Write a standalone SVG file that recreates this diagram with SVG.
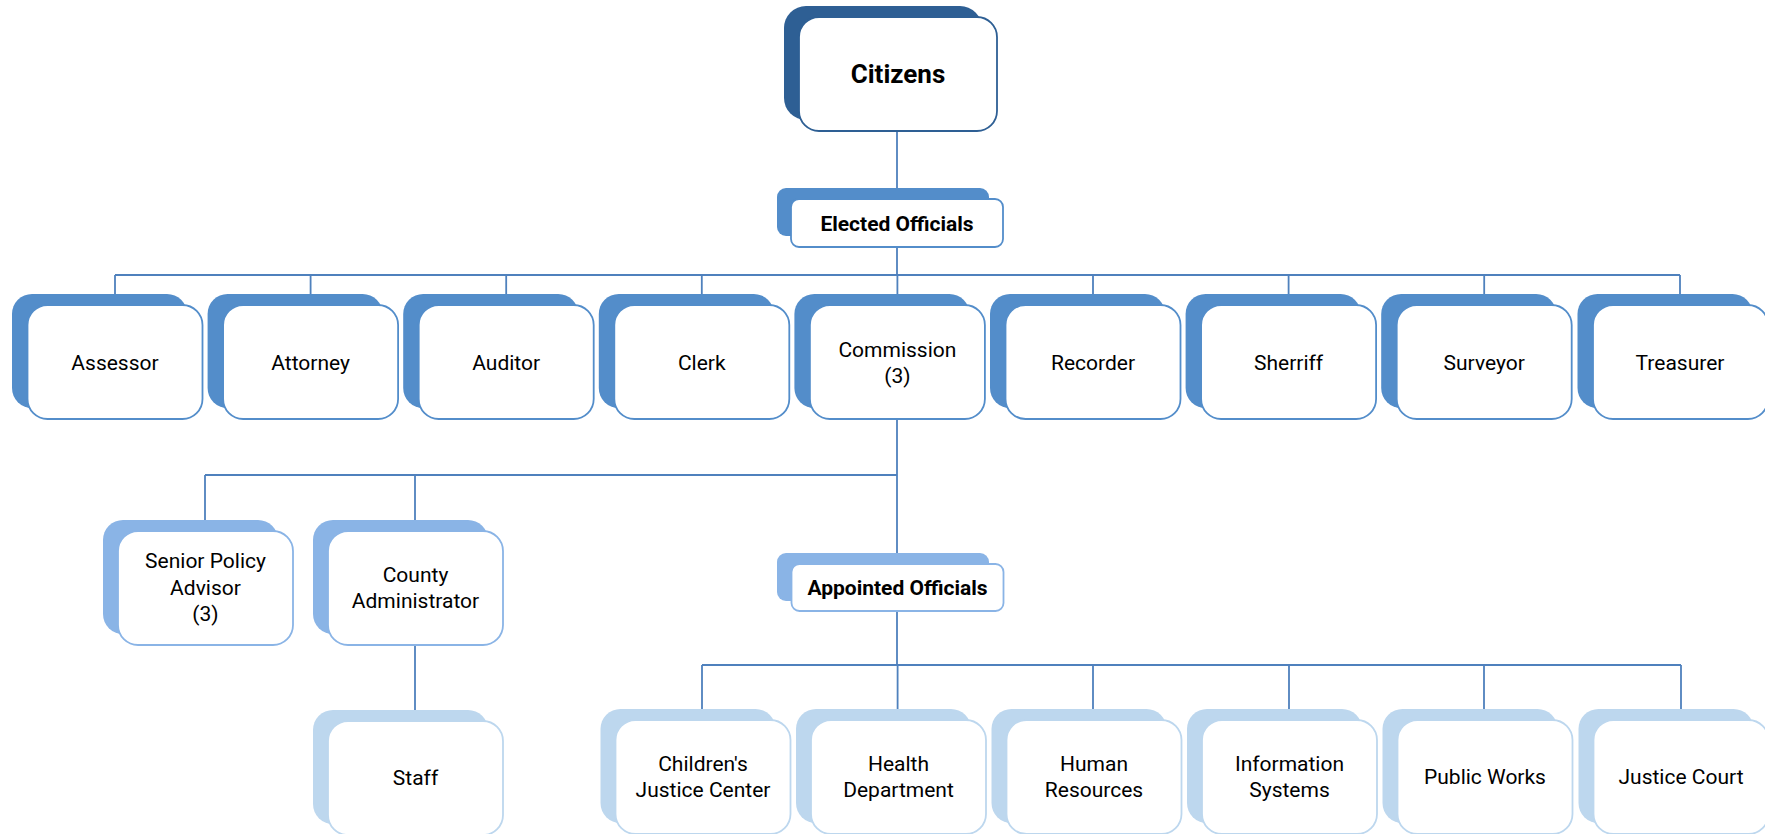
<svg xmlns="http://www.w3.org/2000/svg" width="1765" height="834" viewBox="0 0 1765 834">
  <style>
    .bg { fill: #ffffff; }
    .conn { stroke: #4F81BD; stroke-width: 1.8; fill: none; }
    .card { fill: #ffffff; stroke-width: 1.8; }
    .l1 .sh { fill: #2E5F94; } .l1 .card { stroke: #2E5F94; }
    .l2 .sh { fill: #538DCA; } .l2 .card { stroke: #538DCA; }
    .l3 .sh { fill: #8AB4E6; } .l3 .card { stroke: #8AB4E6; }
    .l4 .sh { fill: #BDD7EE; } .l4 .card { stroke: #BDD7EE; }
    text { font-family: Roboto, "Noto Sans", "Liberation Sans", sans-serif; fill: #000000; text-anchor: middle; font-size: 21px; }
    .b { font-weight: bold; }
    .big { font-size: 26px; font-weight: bold; }
  </style>
  <rect class="bg" x="0" y="0" width="1765" height="834"/>

  <!-- connectors -->
  <g id="connectors">
    <path class="conn" d="M897 131 V199 M897 247 V275"/>
    <path class="conn" d="M115 275 H1680"/>
    <path class="conn" d="M115 275 V305 M310.6 275 V305 M506.2 275 V305 M701.8 275 V305 M897.4 275 V305 M1093 275 V305 M1288.6 275 V305 M1484.2 275 V305 M1680 275 V305"/>
    <path class="conn" d="M897 419 V564 M205 475 H897 M205 475 V531 M415 475 V531 M415 645 V721"/>
    <path class="conn" d="M897 611 V665 M702 665 H1681"/>
    <path class="conn" d="M702 665 V720 M897.6 665 V720 M1093 665 V720 M1289 665 V720 M1484 665 V720 M1681 665 V720"/>
  </g>

  <!-- top -->
  <g id="citizens" class="l1">
    <rect class="sh" x="784" y="6" width="198" height="114" rx="22"/>
    <rect class="card" x="799" y="17" width="198" height="114" rx="20"/>
    <text class="big" x="898" y="83">Citizens</text>
  </g>

  <g id="elected-officials" class="l2">
    <rect class="sh" x="777" y="188" width="212" height="48" rx="9"/>
    <rect class="card" x="791" y="199" width="212" height="48" rx="8"/>
    <text class="b" x="897" y="231">Elected Officials</text>
  </g>

  <!-- elected row -->
  <g id="assessor" class="l2">
    <rect class="sh" x="12" y="294" width="175" height="114" rx="20"/>
    <rect class="card" x="27.5" y="305" width="175" height="114" rx="20"/>
    <text x="115" y="369.5">Assessor</text>
  </g>
  <g id="attorney" class="l2">
    <rect class="sh" x="207.6" y="294" width="175" height="114" rx="20"/>
    <rect class="card" x="223.1" y="305" width="175" height="114" rx="20"/>
    <text x="310.6" y="369.5">Attorney</text>
  </g>
  <g id="auditor" class="l2">
    <rect class="sh" x="403.2" y="294" width="175" height="114" rx="20"/>
    <rect class="card" x="418.7" y="305" width="175" height="114" rx="20"/>
    <text x="506.2" y="369.5">Auditor</text>
  </g>
  <g id="clerk" class="l2">
    <rect class="sh" x="598.8" y="294" width="175" height="114" rx="20"/>
    <rect class="card" x="614.3" y="305" width="175" height="114" rx="20"/>
    <text x="701.8" y="369.5">Clerk</text>
  </g>
  <g id="commission" class="l2">
    <rect class="sh" x="794.4" y="294" width="175" height="114" rx="20"/>
    <rect class="card" x="809.9" y="305" width="175" height="114" rx="20"/>
    <text x="897.4" y="356.5">Commission</text>
    <text x="897.4" y="382.5">(3)</text>
  </g>
  <g id="recorder" class="l2">
    <rect class="sh" x="990" y="294" width="175" height="114" rx="20"/>
    <rect class="card" x="1005.5" y="305" width="175" height="114" rx="20"/>
    <text x="1093" y="369.5">Recorder</text>
  </g>
  <g id="sherriff" class="l2">
    <rect class="sh" x="1185.6" y="294" width="175" height="114" rx="20"/>
    <rect class="card" x="1201.1" y="305" width="175" height="114" rx="20"/>
    <text x="1288.6" y="369.5">Sherriff</text>
  </g>
  <g id="surveyor" class="l2">
    <rect class="sh" x="1381.2" y="294" width="175" height="114" rx="20"/>
    <rect class="card" x="1396.7" y="305" width="175" height="114" rx="20"/>
    <text x="1484.2" y="369.5">Surveyor</text>
  </g>
  <g id="treasurer" class="l2">
    <rect class="sh" x="1577.5" y="294" width="175" height="114" rx="20"/>
    <rect class="card" x="1593" y="305" width="175" height="114" rx="20"/>
    <text x="1680" y="369.5">Treasurer</text>
  </g>

  <!-- commission staff -->
  <g id="senior-policy-advisor" class="l3">
    <rect class="sh" x="103" y="520" width="175" height="114" rx="20"/>
    <rect class="card" x="118" y="531" width="175" height="114" rx="20"/>
    <text x="205.5" y="568">Senior Policy</text>
    <text x="205.5" y="594.5">Advisor</text>
    <text x="205.5" y="621">(3)</text>
  </g>
  <g id="county-administrator" class="l3">
    <rect class="sh" x="313" y="520" width="175" height="114" rx="20"/>
    <rect class="card" x="328" y="531" width="175" height="114" rx="20"/>
    <text x="415.5" y="582">County</text>
    <text x="415.5" y="608">Administrator</text>
  </g>
  <g id="appointed-officials" class="l3">
    <rect class="sh" x="777" y="553" width="212" height="48" rx="9"/>
    <rect class="card" x="791.5" y="564" width="212" height="47" rx="8"/>
    <text class="b" x="897.5" y="595">Appointed Officials</text>
  </g>

  <!-- lower row -->
  <g id="staff" class="l4">
    <rect class="sh" x="313" y="710" width="175" height="114" rx="20"/>
    <rect class="card" x="328" y="721" width="175" height="114" rx="20"/>
    <text x="415.5" y="785">Staff</text>
  </g>
  <g id="childrens-justice-center" class="l4">
    <rect class="sh" x="600.5" y="709" width="175" height="114" rx="20"/>
    <rect class="card" x="615.5" y="720" width="175" height="114" rx="20"/>
    <text x="703" y="771">Children's</text>
    <text x="703" y="797">Justice Center</text>
  </g>
  <g id="health-department" class="l4">
    <rect class="sh" x="796" y="709" width="175" height="114" rx="20"/>
    <rect class="card" x="811" y="720" width="175" height="114" rx="20"/>
    <text x="898.5" y="771">Health</text>
    <text x="898.5" y="797">Department</text>
  </g>
  <g id="human-resources" class="l4">
    <rect class="sh" x="991.5" y="709" width="175" height="114" rx="20"/>
    <rect class="card" x="1006.5" y="720" width="175" height="114" rx="20"/>
    <text x="1094" y="771">Human</text>
    <text x="1094" y="797">Resources</text>
  </g>
  <g id="information-systems" class="l4">
    <rect class="sh" x="1187" y="709" width="175" height="114" rx="20"/>
    <rect class="card" x="1202" y="720" width="175" height="114" rx="20"/>
    <text x="1289.5" y="771">Information</text>
    <text x="1289.5" y="797">Systems</text>
  </g>
  <g id="public-works" class="l4">
    <rect class="sh" x="1382.5" y="709" width="175" height="114" rx="20"/>
    <rect class="card" x="1397.5" y="720" width="175" height="114" rx="20"/>
    <text x="1485" y="784">Public Works</text>
  </g>
  <g id="justice-court" class="l4">
    <rect class="sh" x="1578.5" y="709" width="175" height="114" rx="20"/>
    <rect class="card" x="1593.5" y="720" width="175" height="114" rx="20"/>
    <text x="1681" y="784">Justice Court</text>
  </g>
</svg>
